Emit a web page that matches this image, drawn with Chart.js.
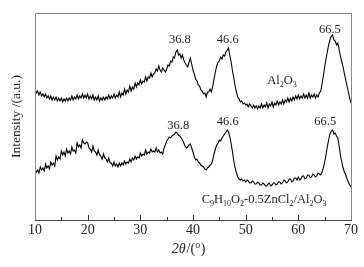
<!DOCTYPE html>
<html>
<head>
<meta charset="utf-8">
<script src="https://cdn.jsdelivr.net/npm/chart.js@4/dist/chart.umd.min.js"></script>
<style>
  html, body { margin: 0; padding: 0; background: #fff; }
  #wrap { width: 364px; height: 267px; }
</style>
</head>
<body>
<div id="wrap"><canvas id="xrdChart" width="364" height="267"></canvas></div>
<script>
// 2theta positions, every 0.25 degree from 10 to 70
const twoTheta = [];
for (let i = 0; i <= 240; i++) twoTheta.push(10 + i * 0.25);

// Al2O3 pattern (upper trace, arbitrary units), 20 values per 5 degrees
const al2o3 = [
  131, 127, 129, 125, 128, 124, 126, 123, 126, 122, 124, 121, 124, 120, 123, 120, 123, 119, 122, 119,
  122, 118, 121, 119, 122, 119, 122, 120, 124, 120, 123, 121, 125, 121, 124, 122, 126, 122, 125, 122,
  126, 121, 124, 121, 125, 120, 123, 120, 124, 119, 122, 120, 123, 120, 123, 121, 125, 121, 124, 122,
  126, 122, 125, 123, 128, 123, 127, 125, 131, 126, 130, 128, 134, 129, 133, 131, 137, 133, 137, 135,
  140, 136, 139, 138, 143, 139, 143, 142, 147, 143, 146, 147, 151, 149, 154, 150, 148, 152, 150, 148,
  151, 155, 154, 159, 158, 163, 162, 168, 170, 165, 166, 162, 165, 160, 157, 155, 153, 158, 162, 156,
  150, 146, 141, 139, 135, 134, 130, 129, 126, 127, 123, 128, 128, 131, 128, 134, 141, 148, 154, 158,
  159, 163, 161, 165, 164, 168, 170, 172, 164, 158, 149, 142, 134, 128, 123, 121, 118, 119, 116, 117,
  115, 116, 113, 116, 114, 112, 115, 112, 114, 111, 114, 112, 116, 112, 115, 113, 117, 112, 116, 114,
  118, 113, 117, 115, 119, 115, 118, 116, 120, 116, 120, 118, 122, 118, 122, 119, 123, 120, 124, 121,
  125, 121, 124, 122, 126, 122, 125, 122, 127, 122, 125, 123, 126, 122, 125, 123, 127, 129, 136, 144,
  153, 161, 168, 175, 180, 184, 185, 180, 179, 175, 177, 170, 164, 158, 153, 146, 140, 134, 128, 122,
  117
];

// C9H10O2-0.5ZnCl2/Al2O3 pattern (lower trace)
const catalyst = [
  51, 48, 50, 47, 53, 50, 52, 49, 56, 52, 54, 51, 58, 55, 57, 54, 64, 60, 63, 61,
  69, 65, 68, 64, 71, 67, 69, 66, 73, 69, 70, 67, 77, 73, 75, 72, 80, 77, 76, 78,
  77, 72, 71, 68, 74, 69, 68, 65, 70, 65, 64, 61, 66, 62, 61, 58, 62, 57, 57, 54,
  58, 54, 56, 53, 57, 54, 57, 55, 59, 56, 58, 57, 61, 58, 62, 60, 64, 61, 63, 62,
  67, 64, 66, 65, 70, 66, 68, 67, 71, 68, 69, 68, 72, 68, 70, 67, 68, 66, 72, 75,
  79, 81, 83, 82, 84, 85, 86, 88, 87, 85, 84, 82, 80, 77, 74, 72, 73, 75, 76, 72,
  68, 63, 60, 61, 58, 57, 55, 54, 53, 51, 50, 52, 53, 55, 56, 60, 66, 71, 75, 77,
  80, 79, 82, 84, 86, 88, 90, 88, 83, 76, 68, 59, 52, 47, 43, 41, 40, 41, 39, 40,
  38, 40, 39, 37, 37, 39, 38, 36, 36, 38, 37, 35, 35, 37, 36, 34, 34, 36, 37, 34,
  35, 37, 37, 35, 36, 38, 38, 36, 37, 40, 39, 37, 38, 41, 41, 38, 39, 42, 42, 40,
  43, 40, 41, 44, 44, 41, 42, 45, 45, 42, 43, 46, 45, 43, 44, 47, 46, 45, 48, 52,
  58, 65, 73, 80, 86, 89, 90, 86, 87, 84, 82, 74, 64, 58, 52, 48, 45, 41, 38, 35,
  33
];

const xTicks = [10, 20, 30, 40, 50, 60, 70];

// peak labels: text, 2theta, intensity
const peakLabels = [
  ['36.8', 37.5, 180], ['46.6', 46.6, 180], ['66.5', 66.0, 190],
  ['36.8', 37.2, 94], ['46.6', 46.6, 98], ['66.5', 65.1, 98]
];

// series names with subscripts: [text, isSub]
const seriesNames = [
  { x: 56.9, y: 139, parts: [['Al', 0], ['2', 1], ['O', 0], ['3', 1]] },
  { x: 53.5, y: 20, parts: [['C', 0], ['9', 1], ['H', 0], ['10', 1], ['O', 0], ['2', 1],
    ['-0.5ZnCl', 0], ['2', 1], ['/Al', 0], ['2', 1], ['O', 0], ['3', 1]] }
];

const SERIF = '"Liberation Serif", "Times New Roman", serif';

function drawRich(ctx, parts, cx, cy, size) {
  const subSize = Math.round(size * 0.65);
  let w = 0;
  parts.forEach(function (p) {
    ctx.font = (p[1] ? subSize : size) + 'px ' + SERIF;
    w += ctx.measureText(p[0]).width;
  });
  let x = cx - w / 2;
  ctx.textAlign = 'left';
  ctx.textBaseline = 'middle';
  parts.forEach(function (p) {
    ctx.font = (p[1] ? subSize : size) + 'px ' + SERIF;
    ctx.fillText(p[0], x, p[1] ? cy + 4 : cy);
    x += ctx.measureText(p[0]).width;
  });
}

const decorations = {
  id: 'decorations',
  afterDraw: function (chart) {
    const ctx = chart.ctx;
    const area = chart.chartArea;
    const xs = chart.scales.x;
    const ys = chart.scales.y;
    ctx.save();

    // frame
    ctx.lineWidth = 1;
    ctx.strokeStyle = '#8a8a8a';
    ctx.strokeRect(area.left + 0.5, area.top + 0.5, area.right - area.left, area.bottom - area.top);
    ctx.strokeStyle = '#444';
    ctx.beginPath();
    ctx.moveTo(area.left, area.bottom + 0.5);
    ctx.lineTo(area.right + 1, area.bottom + 0.5);
    ctx.stroke();

    // inward ticks on the bottom axis
    ctx.strokeStyle = '#333';
    for (let v = 15; v < 70; v += 5) {
      const px = Math.round(xs.getPixelForValue(v)) + 0.5;
      const len = v % 10 === 0 ? 5 : 3;
      ctx.beginPath();
      ctx.moveTo(px, area.bottom);
      ctx.lineTo(px, area.bottom - len);
      ctx.stroke();
    }

    ctx.fillStyle = '#222';
    // peak positions
    ctx.font = '12.5px ' + SERIF;
    ctx.textAlign = 'center';
    ctx.textBaseline = 'middle';
    peakLabels.forEach(function (l) {
      ctx.fillText(l[0], xs.getPixelForValue(l[1]), ys.getPixelForValue(l[2]));
    });

    seriesNames.forEach(function (s) {
      drawRich(ctx, s.parts, xs.getPixelForValue(s.x), ys.getPixelForValue(s.y), 12.5);
    });

    // y axis title
    ctx.save();
    ctx.translate(16, (area.top + area.bottom) / 2);
    ctx.rotate(-Math.PI / 2);
    ctx.font = '13.5px ' + SERIF;
    ctx.textAlign = 'center';
    ctx.textBaseline = 'middle';
    ctx.fillText('Intensity /(a.u.)', 0, 0);
    ctx.restore();

    // x axis title: italic 2θ then /(°)
    const t1 = '2\u03B8';
    const t2 = '/(\u00B0)';
    ctx.font = 'italic 14px ' + SERIF;
    const w1 = ctx.measureText(t1).width;
    ctx.font = '14px ' + SERIF;
    const w2 = ctx.measureText(t2).width;
    let tx = 188 - (w1 + w2) / 2;
    ctx.textAlign = 'left';
    ctx.font = 'italic 14px ' + SERIF;
    ctx.fillText(t1, tx, 249);
    ctx.font = '14px ' + SERIF;
    ctx.fillText(t2, tx + w1 + 1, 249);

    ctx.restore();
  }
};

const points = function (ys) {
  return twoTheta.map(function (t, i) { return { x: t, y: ys[i] }; });
};

new Chart(document.getElementById('xrdChart'), {
  type: 'line',
  data: {
    datasets: [
      {
        label: 'Al2O3',
        data: points(al2o3),
        borderColor: '#000',
        borderWidth: 1.1,
        pointRadius: 0,
        tension: 0
      },
      {
        label: 'C9H10O2-0.5ZnCl2/Al2O3',
        data: points(catalyst),
        borderColor: '#000',
        borderWidth: 1.1,
        pointRadius: 0,
        tension: 0
      }
    ]
  },
  options: {
    responsive: false,
    animation: false,
    devicePixelRatio: 1,
    layout: { padding: { left: 0, right: 13, top: 13, bottom: 0 } },
    plugins: {
      legend: { display: false },
      tooltip: { enabled: false }
    },
    scales: {
      x: {
        type: 'linear',
        min: 10,
        max: 70,
        afterFit: function (scale) { scale.height = 47; },
        grid: { display: false, drawTicks: false },
        border: { display: false },
        afterBuildTicks: function (scale) {
          scale.ticks = xTicks.map(function (v) { return { value: v }; });
        },
        ticks: {
          font: { family: SERIF, size: 14 },
          color: '#222',
          padding: 2,
          maxRotation: 0,
          autoSkip: false
        }
      },
      y: {
        min: 0,
        max: 207,
        afterFit: function (scale) { scale.width = 35; },
        grid: { display: false, drawTicks: false },
        border: { display: false },
        ticks: { display: false }
      }
    }
  },
  plugins: [decorations]
});
</script>
</body>
</html>
